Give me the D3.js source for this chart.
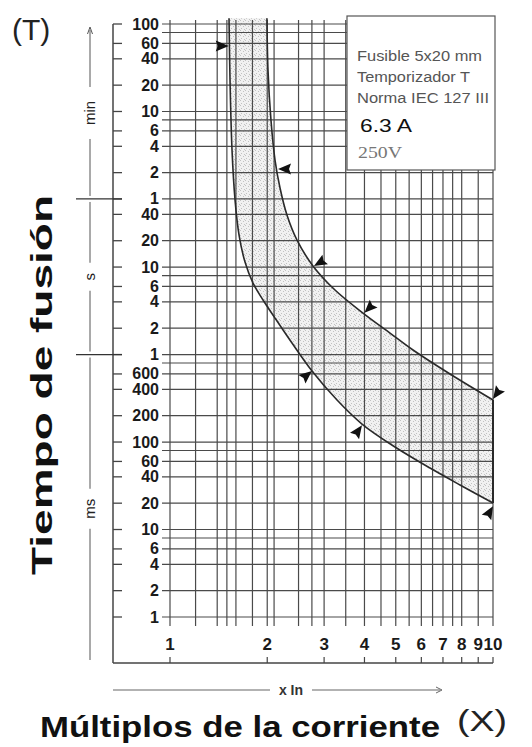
<!DOCTYPE html>
<html>
<head>
<meta charset="utf-8">
<script src="https://cdn.jsdelivr.net/npm/d3@7"></script>
<style>
  body { margin: 0; background: #fff; }
  svg { display: block; }
</style>
</head>
<body>
<div id="chart"></div>
<script>
// fuse melting curves, 5x20 mm time-lag T, 6.3 A
const xTicks = [1, 2, 3, 4, 5, 6, 7, 8, 9, 10];
const xGrid = [1, 1.2, 1.4, 1.5, 1.6, 1.8, 2, 2.1, 2.5, 2.75, 3, 3.5, 4, 4.5, 5, 5.5, 6, 6.5, 7, 7.5, 8, 9, 10];

const msTicks = [1, 2, 4, 6, 10, 20, 40, 60, 100, 200, 400, 600];
const sTicks = [1, 2, 4, 6, 10, 20, 40];
const minTicks = [1, 2, 4, 6, 10, 20, 40, 60, 100];
const msGrid = [1, 2, 4, 6, 8, 10, 20, 40, 60, 80, 100, 200, 400, 600, 800];
const sGrid = [1, 2, 4, 6, 8, 10, 20, 40];
const minGrid = [1, 2, 4, 6, 8, 10, 20, 40, 60, 80, 100];

// time in seconds against multiples of In
const upperMult = [1.996, 2.011, 2.054, 2.114, 2.191, 2.302, 2.473, 2.771, 3.242, 3.958, 4.799, 5.654, 7.36, 10];
const upperTime = [7000, 1780, 479, 167, 80, 39.3, 20.3, 10.3, 5.46, 2.98, 1.76, 1.126, 0.599, 0.302];
const lowerMult = [1.523, 1.534, 1.556, 1.59, 1.636, 1.707, 1.807, 1.941, 2.114, 2.386, 2.752, 3.289, 3.93, 4.973, 6.382, 7.905, 10];
const lowerTime = [7000, 1370, 217, 58.3, 23.2, 11.4, 6.56, 4.2, 2.61, 1.353, 0.648, 0.302, 0.1606, 0.0877, 0.0504, 0.0323, 0.0201];

const markerMult = [1.52, 2.16, 2.79, 4.0, 10, 2.75, 3.93, 10];
const markerTime = [3360, 132, 10.3, 3.0, 0.31, 0.65, 0.155, 0.0185];
const markerAngle = [0, 180, 150, 135, 125, -40, -55, -60];

const legendLines = ['Fusible 5x20 mm', 'Temporizador T', 'Norma IEC 127 III'];

const font = '"Liberation Sans", Arial, sans-serif';

const svg = d3.select('#chart')
  .append('svg')
  .attr('width', 532)
  .attr('height', 747);

const x = d3.scaleLog().domain([1, 10]).range([170, 493]);
const y = d3.scaleLog().domain([0.001, 6000]).range([617, 24]);

const gridLeft = 162, gridTop = 20, gridBottom = 626;
const axisX = 113, axisBottom = 663;

// stipple for the band between the curves
const defs = svg.append('defs');
const pat = defs.append('pattern')
  .attr('id', 'stip')
  .attr('width', 5).attr('height', 5)
  .attr('patternUnits', 'userSpaceOnUse');
pat.append('rect').attr('width', 5).attr('height', 5).attr('fill', '#f1f1f1');
[[0, 0], [3, 1], [1, 3], [4, 4]].forEach(([a, b]) => {
  pat.append('rect').attr('x', a).attr('y', b).attr('width', 1).attr('height', 1).attr('fill', '#c2c2c2');
});

const upper = upperMult.map((m, i) => [x(m), y(upperTime[i])]);
const lower = lowerMult.map((m, i) => [x(m), y(lowerTime[i])]);
const line = d3.line().curve(d3.curveCatmullRom.alpha(0.5));

const bandPath = line(upper) + 'L' + line(lower.slice().reverse()).slice(1) + 'Z';
svg.append('path').attr('d', bandPath).attr('fill', 'url(#stip)');

// grid
const hVals = [
  ...msGrid.map((v) => v / 1000),
  ...sGrid,
  ...minGrid.map((v) => v * 60),
];
svg.append('g')
  .selectAll('line')
  .data(hVals)
  .enter()
  .append('line')
  .attr('x1', gridLeft)
  .attr('x2', x(10))
  .attr('y1', (d) => y(d))
  .attr('y2', (d) => y(d))
  .attr('stroke', '#4a4a4a')
  .attr('stroke-width', 1.2);

svg.append('g')
  .selectAll('line')
  .data(xGrid)
  .enter()
  .append('line')
  .attr('x1', (d) => x(d))
  .attr('x2', (d) => x(d))
  .attr('y1', gridTop)
  .attr('y2', gridBottom)
  .attr('stroke', '#4a4a4a')
  .attr('stroke-width', 1.2);

// legend box
svg.append('rect')
  .attr('x', 347).attr('y', 16)
  .attr('width', 148).attr('height', 154)
  .attr('fill', '#fff')
  .attr('stroke', '#555')
  .attr('stroke-width', 1.2);

const lengths = [125, 113, 132];
legendLines.forEach((t, i) => {
  svg.append('text')
    .attr('x', 357).attr('y', 61 + i * 21)
    .attr('font-family', font).attr('font-size', 14)
    .attr('fill', '#555')
    .attr('textLength', lengths[i]).attr('lengthAdjust', 'spacingAndGlyphs')
    .text(t);
});
svg.append('text')
  .attr('x', 360).attr('y', 132)
  .attr('font-family', font).attr('font-size', 19)
  .attr('fill', '#111')
  .attr('textLength', 52).attr('lengthAdjust', 'spacingAndGlyphs')
  .text('6.3 A');
svg.append('text')
  .attr('x', 358).attr('y', 158)
  .attr('font-family', '"Liberation Serif", "DejaVu Serif", serif').attr('font-size', 16)
  .attr('fill', '#777')
  .attr('textLength', 44).attr('lengthAdjust', 'spacingAndGlyphs')
  .text('250V');

// curves
[upper, lower].forEach((pts) => {
  svg.append('path')
    .attr('d', line(pts))
    .attr('fill', 'none')
    .attr('stroke', '#2a2a2a')
    .attr('stroke-width', 1.6);
});
svg.append('line')
  .attr('x1', x(10)).attr('x2', x(10))
  .attr('y1', y(upperTime[upperTime.length - 1]))
  .attr('y2', y(lowerTime[lowerTime.length - 1]))
  .attr('stroke', '#2a2a2a').attr('stroke-width', 2);

// arrow markers pointing at the curves
svg.append('g')
  .selectAll('path')
  .data(markerMult)
  .enter()
  .append('path')
  .attr('d', 'M0,0L-13,-5.5L-11,0L-13,5.5Z')
  .attr('transform', (d, i) => `translate(${x(d)},${y(markerTime[i])}) rotate(${markerAngle[i]})`)
  .attr('fill', '#111');

// left time axis
svg.append('line')
  .attr('x1', axisX).attr('x2', axisX)
  .attr('y1', y(6000)).attr('y2', axisBottom)
  .attr('stroke', '#444').attr('stroke-width', 1.5);

const yLabels = [
  ...msTicks.map((v) => ({ t: v / 1000, label: v })),
  ...sTicks.map((v) => ({ t: v, label: v })),
  ...minTicks.map((v) => ({ t: v * 60, label: v })),
];
const yl = svg.append('g');
yl.selectAll('line')
  .data(yLabels)
  .enter()
  .append('line')
  .attr('x1', axisX).attr('x2', axisX + 9)
  .attr('y1', (d) => y(d.t)).attr('y2', (d) => y(d.t))
  .attr('stroke', '#444').attr('stroke-width', 1.3);
yl.selectAll('text')
  .data(yLabels)
  .enter()
  .append('text')
  .attr('x', 159)
  .attr('y', (d) => y(d.t) + 5.5)
  .attr('text-anchor', 'end')
  .attr('font-family', font).attr('font-size', 16).attr('font-weight', 'bold')
  .attr('fill', '#1a1a1a')
  .text((d) => d.label);

// unit brackets
const units = [
  { label: 'min', top: y(6000) + 3, bottom: y(60) },
  { label: 's', top: y(60), bottom: y(1) },
  { label: 'ms', top: y(1), bottom: axisBottom },
];
const ux = 90;
units.forEach((u) => {
  const mid = (u.top + u.bottom) / 2;
  const gap = u.label.length * 6 + 8;
  const g = svg.append('g').attr('stroke', '#555').attr('stroke-width', 1);
  g.append('line').attr('x1', ux).attr('x2', ux).attr('y1', u.top + 3).attr('y2', mid - gap);
  g.append('line').attr('x1', ux).attr('x2', ux).attr('y1', mid + gap).attr('y2', u.bottom - 3);
  svg.append('text')
    .attr('transform', `translate(${ux + 5},${mid}) rotate(-90)`)
    .attr('text-anchor', 'middle')
    .attr('font-family', font).attr('font-size', 15)
    .attr('fill', '#222')
    .text(u.label);
});
svg.append('path')
  .attr('d', `M${ux - 2.5},${y(6000) + 10}L${ux},${y(6000) + 3}L${ux + 2.5},${y(6000) + 10}`)
  .attr('fill', 'none').attr('stroke', '#555');
[60, 1].forEach((t) => {
  svg.append('line')
    .attr('x1', 76).attr('x2', 122)
    .attr('y1', y(t)).attr('y2', y(t))
    .attr('stroke', '#333').attr('stroke-width', 1.3);
});

// bottom multiples axis
svg.append('line')
  .attr('x1', axisX).attr('x2', x(10))
  .attr('y1', axisBottom).attr('y2', axisBottom)
  .attr('stroke', '#444').attr('stroke-width', 1.5);
const xl = svg.append('g');
xl.selectAll('line')
  .data(xTicks)
  .enter()
  .append('line')
  .attr('x1', (d) => x(d)).attr('x2', (d) => x(d))
  .attr('y1', axisBottom).attr('y2', axisBottom - 6)
  .attr('stroke', '#444').attr('stroke-width', 1.2);
xl.selectAll('text')
  .data(xTicks)
  .enter()
  .append('text')
  .attr('x', (d) => x(d))
  .attr('y', 650)
  .attr('text-anchor', 'middle')
  .attr('font-family', font).attr('font-size', 17).attr('font-weight', 'bold')
  .attr('fill', '#1a1a1a')
  .text((d) => d);

// "x In" arrow
svg.append('line').attr('x1', axisX).attr('x2', 270).attr('y1', 690).attr('y2', 690)
  .attr('stroke', '#666').attr('stroke-width', 1.2);
svg.append('line').attr('x1', 312).attr('x2', 440).attr('y1', 690).attr('y2', 690)
  .attr('stroke', '#666').attr('stroke-width', 1.2);
svg.append('path').attr('d', 'M436,687L442,690L436,693').attr('fill', 'none').attr('stroke', '#666');
svg.append('text')
  .attr('x', 291).attr('y', 695)
  .attr('text-anchor', 'middle')
  .attr('font-family', font).attr('font-size', 14).attr('font-weight', 'bold')
  .attr('fill', '#333')
  .text('x In');

// titles
svg.append('text')
  .attr('x', 12).attr('y', 40)
  .attr('font-family', font).attr('font-size', 30)
  .attr('fill', '#222')
  .text('(T)');
svg.append('text')
  .attr('transform', 'translate(52,385) rotate(-90)')
  .attr('text-anchor', 'middle')
  .attr('font-family', font).attr('font-size', 30).attr('font-weight', 'bold')
  .attr('fill', '#111')
  .attr('textLength', 380).attr('lengthAdjust', 'spacingAndGlyphs')
  .text('Tiempo de fusión');
svg.append('text')
  .attr('x', 40).attr('y', 737)
  .attr('font-family', font).attr('font-size', 30).attr('font-weight', 'bold')
  .attr('fill', '#111')
  .attr('textLength', 400).attr('lengthAdjust', 'spacingAndGlyphs')
  .text('Múltiplos de la corriente');
svg.append('text')
  .attr('x', 457).attr('y', 731)
  .attr('font-family', font).attr('font-size', 30)
  .attr('fill', '#222')
  .attr('textLength', 50).attr('lengthAdjust', 'spacingAndGlyphs')
  .text('(X)');
</script>
</body>
</html>
